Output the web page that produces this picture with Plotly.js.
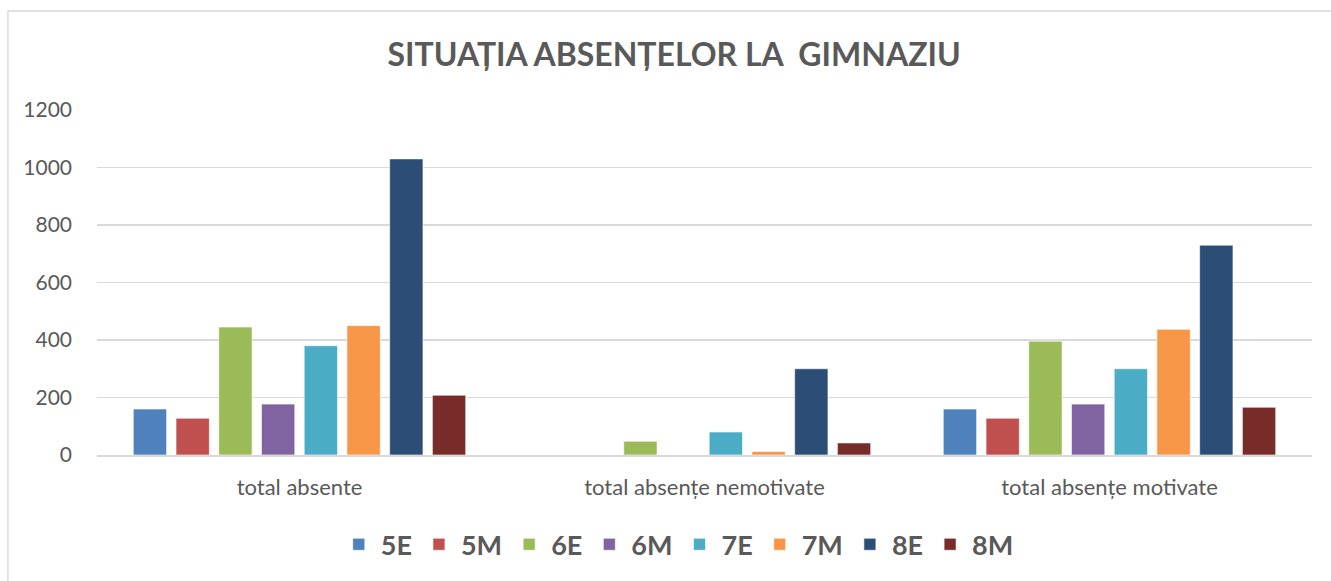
<!DOCTYPE html>
<html>
<head>
<meta charset="utf-8">
<script src="https://cdn.plot.ly/plotly-3.0.1.min.js"></script>
<style>html,body{margin:0;padding:0;background:#fff;}#chart{width:1331px;height:581px;}</style>
</head>
<body>
<div id="chart"></div>
<script>
const categories = ["total absente", "total absențe nemotivate", "total absențe motivate"];
const seriesNames = ["5E", "5M", "6E", "6M", "7E", "7M", "8E", "8M"];
const v5E = [160, 0, 160];
const v5M = [128, 0, 128];
const v6E = [445, 48, 396];
const v6M = [177, 0, 177];
const v7E = [380, 80, 300];
const v7M = [450, 12, 437];
const v8E = [1030, 300, 730];
const v8M = [208, 42, 166];
const seriesValues = [v5E, v5M, v6E, v6M, v7E, v7M, v8E, v8M];
const colors = ["#4f81bd", "#c0504d", "#9bbb59", "#8064a2", "#4bacc6", "#f79646", "#2c4d75", "#772c2a"];
const yTicks = [0, 200, 400, 600, 800, 1000, 1200];

const FONT = "Lato, 'Open Sans', sans-serif";
const traces = seriesNames.map((n, i) => ({
  type: "bar",
  name: n,
  x: categories,
  y: seriesValues[i],
  marker: {color: colors[i], line: {color: "rgba(255,255,255,0.6)", width: 1}},
  hoverinfo: "x+y+name"
}));

const layout = {
  width: 1331, height: 581,
  margin: {l: 97, r: 19, t: 110, b: 126},
  paper_bgcolor: "#ffffff", plot_bgcolor: "#ffffff",
  barmode: "group",
  bargap: 0.156,
  bargroupgap: 0.22,
  title: {text: "<b>SITUAȚIA ABSENȚELOR LA  GIMNAZIU</b>", x: 0.475, xref: "paper", xanchor: "center", y: 0.905, yanchor: "middle",
          font: {family: FONT, size: 32, color: "#595959"}},
  xaxis: {type: "category", showgrid: false, showline: true, linecolor: "#d9d9d9", linewidth: 2,
          ticks: "", tickfont: {family: FONT, size: 22, color: "#595959"}, ticklabelstandoff: 12, fixedrange: true},
  yaxis: {range: [0, 1200], tickvals: yTicks, ticktext: yTicks.map(String), showgrid: true, gridcolor: "#d9d9d9", gridwidth: 1.5,
          zeroline: false, showline: false, ticks: "", ticklabelstandoff: 24,
          tickfont: {family: FONT, size: 21, color: "#595959"}, fixedrange: true},
  legend: {orientation: "h", x: 0.478, xanchor: "center", y: -0.26, yanchor: "middle",
           font: {family: FONT, size: 27, color: "#595959", weight: "bold"},
           itemwidth: 34, traceorder: "normal"},
  shapes: [{type: "rect", xref: "paper", yref: "paper", x0: -0.0733, x1: 1.03, y0: -0.4, y1: 1.287,
            line: {color: "#d9d9d9", width: 1.5}, fillcolor: "rgba(0,0,0,0)", layer: "below"}],
  showlegend: true
};

Plotly.newPlot("chart", traces, layout, {displayModeBar: false, staticPlot: true});
</script>
</body>
</html>
